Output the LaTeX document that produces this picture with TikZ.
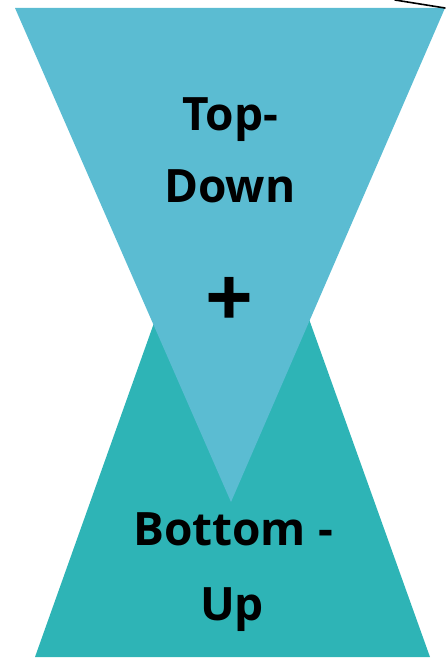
\documentclass[tikz,border=0pt]{standalone}
\usepackage{fontspec}
\setmainfont{Open Sans}
\usepackage{xcolor}
\usepackage{tikz}
\usetikzlibrary{positioning,calc}
\tikzset{
  funnel/.style={draw=none},
  bigword/.style={font=\fontsize{46}{50}\selectfont\bfseries, anchor=base, inner sep=0pt},
  pointer/.style={draw=black, line width=1.6pt, line cap=round}
}
\definecolor{TopBlue}{HTML}{5BBCD2}
\definecolor{BottomTeal}{HTML}{2EB4B6}

\begin{document}
\begin{tikzpicture}[x=1pt, y=-1pt,
  plussign/.style={font=\fontsize{84}{88}\selectfont\bfseries, inner sep=0pt}
]
\useasboundingbox (0,0) rectangle (445,661);

\fill[funnel, BottomTeal] (35,657) -- (232,104) -- (430,657) -- cycle;
\fill[funnel, TopBlue] (15,8) -- (445,8) -- (231,502) -- cycle;

\coordinate (corner) at (445,8);
\coordinate (offpage) at (395,0);
\draw[pointer] (offpage) -- (corner);

\node[bigword] at (230,130) (top) {Top-};
\node[bigword] at (230,202) (down) {Down};
\node[plussign] at (229,302) (plus) {+};
\node[bigword] at (233,545) (bottom) {Bottom -};
\node[bigword] at (232,620) (up) {Up};
\end{tikzpicture}
\end{document}
